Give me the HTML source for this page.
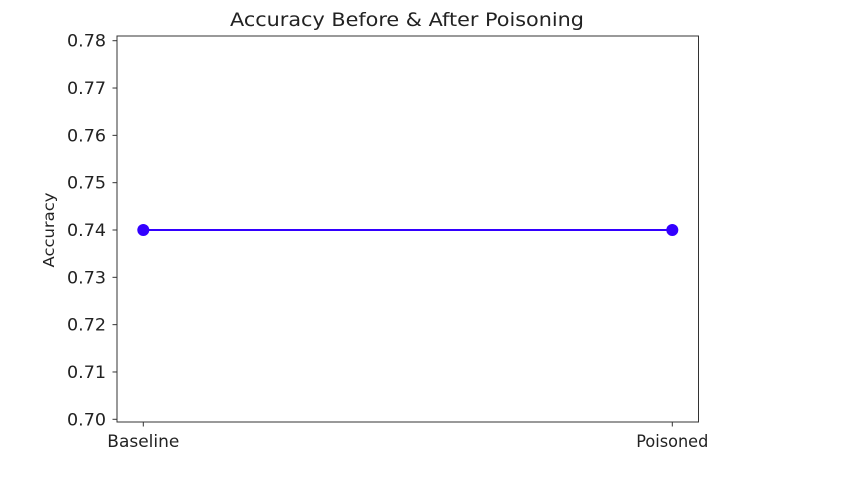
<!DOCTYPE html>
<html><head><meta charset="utf-8"><style>
body{margin:0;background:#fff}
text{font-family:"DejaVu Sans","Liberation Sans",sans-serif;fill:#222}
</style></head><body>
<svg id="chart" width="843" height="472">
<text x="407" y="26" font-size="19" text-anchor="middle" textLength="354" lengthAdjust="spacingAndGlyphs">Accuracy Before &amp; After Poisoning</text>
<rect x="117" y="36" width="581.5" height="386" fill="none" stroke="#333" stroke-width="1"/>
<g id="yticks"></g>
<g id="xticks"></g>
<text transform="translate(54,230) rotate(-90)" font-size="15.5" text-anchor="middle" textLength="75" lengthAdjust="spacingAndGlyphs">Accuracy</text>
<g id="series"></g>
</svg>
<script>
const categories=["Baseline","Poisoned"];
const accuracy=[0.74,0.74];
const yTicks=[0.70,0.71,0.72,0.73,0.74,0.75,0.76,0.77,0.78];
const NS="http://www.w3.org/2000/svg";
function y(v){return 419.3-(v-0.70)*4732.5;}
function x(i){return 143.3+i*(672.3-143.3)/(categories.length-1);}
function mk(t,a,p){const e=document.createElementNS(NS,t);for(const k in a)e.setAttribute(k,a[k]);p.appendChild(e);return e;}
const yg=document.getElementById('yticks');
yTicks.forEach(v=>{
 const l=mk('line',{x1:112.5,x2:117,y1:y(v),y2:y(v),stroke:'#333'},yg);
 
 
 const t=mk('text',{x:106,y:y(v)+6,'font-size':17,'text-anchor':'end',textLength:39,lengthAdjust:'spacingAndGlyphs'},yg);
 t.textContent=v.toFixed(2);
 
 
});
const xg=document.getElementById('xticks');
categories.forEach((c,i)=>{
 const l=mk('line',{x1:x(i),x2:x(i),y1:422,y2:426.5,stroke:'#333'},xg);
 
 
 const t=mk('text',{x:x(i),y:447,'font-size':17,'text-anchor':'middle',textLength:c.length*9,lengthAdjust:'spacingAndGlyphs'},xg);
 t.textContent=c;
 
 
});
const sg=document.getElementById('series');
const pts=accuracy.map((v,i)=>x(i)+','+y(v)).join(' ');
const pl=mk('polyline',{points:pts,fill:'none',stroke:'#3300ff','stroke-width':2},sg);


accuracy.forEach((v,i)=>{
 const c=mk('circle',{cx:x(i),cy:y(v),r:6,fill:'#3300ff'},sg);
 
 
});
</script>
</body></html>
